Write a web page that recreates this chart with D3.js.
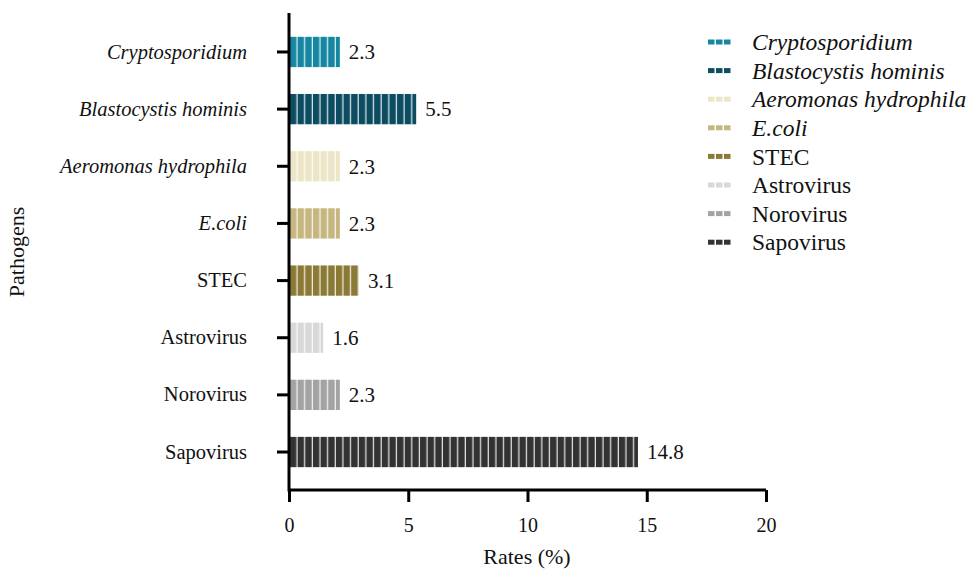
<!DOCTYPE html>
<html><head><meta charset="utf-8">
<script src="https://cdn.jsdelivr.net/npm/d3@7"></script>
<style>body{margin:0;background:#fff}svg{display:block}svg text{font-family:"Liberation Serif","Times New Roman",serif !important;fill:#111}</style>
</head><body><div id="chart"></div>
<script>
const categories = ["Cryptosporidium","Blastocystis hominis","Aeromonas hydrophila","E.coli","STEC","Astrovirus","Norovirus","Sapovirus"];
const rates = [2.3, 5.5, 2.3, 2.3, 3.1, 1.6, 2.3, 14.8];
const italicNames = ["Cryptosporidium","Blastocystis hominis","Aeromonas hydrophila","E.coli"];
const colors = ["#1687a3","#0d4d61","#ece5c6","#c6b67f","#8b7a36","#d8d8d8","#a3a3a3","#333333"];
const xTicks = [0,5,10,15,20];

const W=969,H=571;
const svg=d3.select("#chart").append("svg").attr("width",W).attr("height",H)
  .attr("font-family","Liberation Serif");
const x=d3.scaleLinear().domain([0,20]).range([289,766]);
const y=d3.scaleBand().domain(categories).range([23.4,480.6]).paddingInner(0.47).paddingOuter(0.235);
const defs=svg.append("defs");
colors.forEach((c,i)=>{
  const p=defs.append("pattern").attr("id","pat"+i).attr("patternUnits","userSpaceOnUse")
    .attr("x",x(0)+1).attr("y",0).attr("width",7.65).attr("height",10);
  p.append("rect").attr("width",7.65).attr("height",10).attr("fill",c);
  p.append("rect").attr("x",6.4).attr("width",1.25).attr("height",10).attr("fill","#fff").attr("opacity",0.85);
});
// bars
svg.append("g").selectAll("rect").data(categories).join("rect")
  .attr("x",x(0)+1).attr("y",d=>y(d)).attr("height",y.bandwidth())
  .attr("width",(d,i)=>x(rates[i])-x(0)-5)
  .attr("fill",(d,i)=>`url(#pat${i})`);
// value labels
svg.append("g").selectAll("text").data(categories).join("text")
  .attr("x",(d,i)=>x(rates[i])+5).attr("y",d=>y(d)+y.bandwidth()/2)
  .attr("dy","0.35em").attr("font-size",21).text((d,i)=>rates[i].toFixed(1));
// axes
const xa=svg.append("g").attr("transform","translate(0,490)")
  .call(d3.axisBottom(x).tickValues(xTicks).tickSize(12).tickPadding(16).tickFormat(d3.format("d")));
xa.attr("font-family",null);
xa.select(".domain").attr("d",`M${x(0)},0H${x(20)}`).attr("stroke","#000").attr("stroke-width",3);
xa.selectAll(".tick line").attr("stroke","#000").attr("stroke-width",3);
xa.selectAll(".tick text").attr("font-size",20).attr("fill","#111");
const ya=svg.append("g").attr("transform",`translate(${x(0)},0)`)
  .call(d3.axisLeft(y).tickSize(12).tickPadding(30));
ya.attr("font-family",null);
ya.select(".domain").attr("d","M0,13V491.5").attr("stroke","#000").attr("stroke-width",3);
ya.selectAll(".tick line").attr("stroke","#000").attr("stroke-width",3);
ya.selectAll(".tick text").attr("font-size",20.5).attr("fill","#111")
  .attr("font-style",d=>italicNames.includes(d)?"italic":"normal");
// titles
svg.append("text").attr("x",527).attr("y",564).attr("text-anchor","middle").attr("font-size",22).text("Rates (%)");
svg.append("text").attr("transform","translate(24,252) rotate(-90)").attr("text-anchor","middle").attr("font-size",22).text("Pathogens");
// legend
const lg=svg.append("g").attr("transform","translate(708,42)");
const rows=lg.selectAll("g").data(categories).join("g").attr("transform",(d,i)=>`translate(0,${i*28.6})`);
rows.each(function(d,i){
  const g=d3.select(this);
  [0,1,2].forEach(k=>g.append("rect").attr("x",k*8).attr("y",-2.5).attr("width",6.5).attr("height",5).attr("fill",colors[i]));
});
rows.append("text").attr("x",44).attr("dy","0.35em").attr("font-size",23.5)
  .attr("font-style",d=>italicNames.includes(d)?"italic":"normal").text(d=>d);
</script></body></html>
